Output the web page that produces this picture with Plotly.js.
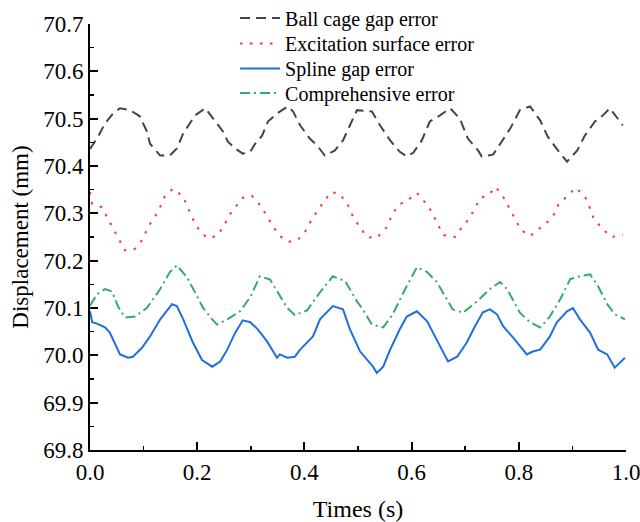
<!DOCTYPE html>
<html>
<head>
<meta charset="utf-8">
<script src="https://cdn.plot.ly/plotly-3.0.1.min.js"></script>
<style>html,body{margin:0;padding:0;background:#fff;}#chart{width:640px;height:522px;}</style>
</head>
<body>
<div id="chart"></div>
<script>
// Series names
const seriesNames = ["Ball cage gap error", "Excitation surface error", "Spline gap error", "Comprehensive error"];

// Ball cage gap error
const ballT = [0.000,0.015,0.028,0.043,0.056,0.075,0.093,0.106,0.112,0.131,0.149,0.162,0.174,0.187,0.196,0.215,0.233,0.248,0.257,0.271,0.285,0.299,0.308,0.321,0.332,0.349,0.369,0.379,0.392,0.410,0.424,0.438,0.457,0.472,0.485,0.498,0.526,0.541,0.560,0.578,0.591,0.603,0.619,0.634,0.653,0.672,0.690,0.705,0.724,0.731,0.752,0.769,0.784,0.802,0.821,0.840,0.854,0.873,0.890,0.909,0.923,0.942,0.957,0.970,0.985,0.994];
const ballY = [70.436,70.462,70.49,70.511,70.522,70.518,70.505,70.473,70.447,70.422,70.422,70.437,70.469,70.49,70.507,70.522,70.496,70.473,70.452,70.437,70.426,70.43,70.447,70.464,70.494,70.511,70.526,70.515,70.486,70.458,70.443,70.422,70.433,70.454,70.486,70.518,70.515,70.486,70.454,70.43,70.42,70.428,70.454,70.494,70.507,70.522,70.5,70.458,70.433,70.42,70.424,70.452,70.479,70.518,70.526,70.496,70.462,70.433,70.409,70.433,70.464,70.494,70.507,70.522,70.5,70.486];

// Excitation surface error
const excT = [0.000,0.004,0.022,0.034,0.043,0.054,0.065,0.084,0.099,0.108,0.121,0.131,0.140,0.155,0.174,0.183,0.192,0.201,0.218,0.237,0.250,0.259,0.272,0.285,0.302,0.317,0.330,0.341,0.354,0.371,0.388,0.405,0.414,0.425,0.437,0.450,0.466,0.481,0.491,0.502,0.517,0.535,0.554,0.563,0.575,0.591,0.610,0.623,0.638,0.647,0.660,0.681,0.694,0.707,0.718,0.729,0.744,0.757,0.772,0.784,0.793,0.804,0.821,0.838,0.854,0.868,0.875,0.892,0.905,0.922,0.931,0.940,0.955,0.972,0.994];
const excY = [70.345,70.32,70.313,70.288,70.267,70.244,70.222,70.225,70.246,70.271,70.292,70.314,70.337,70.352,70.335,70.311,70.288,70.269,70.248,70.252,70.273,70.295,70.314,70.333,70.337,70.318,70.295,70.273,70.252,70.24,70.244,70.267,70.288,70.307,70.326,70.345,70.341,70.318,70.292,70.273,70.25,70.248,70.271,70.295,70.318,70.326,70.343,70.326,70.303,70.28,70.254,70.25,70.271,70.288,70.309,70.333,70.339,70.356,70.333,70.307,70.286,70.265,70.252,70.267,70.282,70.301,70.322,70.337,70.354,70.339,70.316,70.288,70.269,70.25,70.254];

// Spline gap error
const splT = [0.000,0.004,0.013,0.028,0.037,0.043,0.056,0.071,0.080,0.097,0.112,0.131,0.153,0.162,0.174,0.192,0.209,0.228,0.243,0.256,0.271,0.285,0.299,0.313,0.330,0.349,0.354,0.368,0.382,0.392,0.416,0.429,0.453,0.472,0.485,0.504,0.517,0.528,0.535,0.547,0.560,0.578,0.591,0.610,0.629,0.647,0.668,0.685,0.703,0.718,0.733,0.746,0.759,0.771,0.789,0.815,0.826,0.840,0.858,0.871,0.890,0.901,0.914,0.933,0.948,0.965,0.979,0.998];
const splY = [70.093,70.07,70.067,70.059,70.048,70.033,70.002,69.995,69.997,70.016,70.04,70.076,70.108,70.104,70.076,70.027,69.99,69.976,69.987,70.012,70.048,70.074,70.07,70.055,70.03,69.995,70.002,69.995,69.997,70.012,70.04,70.076,70.104,70.097,70.055,70.008,69.99,69.976,69.963,69.976,70.012,70.055,70.082,70.093,70.072,70.034,69.987,69.997,70.027,70.061,70.091,70.097,70.087,70.061,70.038,70.002,70.008,70.012,70.04,70.07,70.093,70.1,70.076,70.048,70.012,70.002,69.974,69.995];

// Comprehensive error
const compT = [0.000,0.013,0.028,0.041,0.052,0.065,0.084,0.106,0.131,0.149,0.162,0.181,0.196,0.211,0.228,0.237,0.256,0.280,0.299,0.317,0.336,0.354,0.368,0.382,0.405,0.429,0.453,0.476,0.498,0.509,0.526,0.547,0.565,0.588,0.610,0.629,0.647,0.666,0.677,0.696,0.722,0.746,0.765,0.778,0.789,0.802,0.821,0.840,0.858,0.877,0.896,0.914,0.933,0.948,0.965,0.979,0.998];
const compY = [70.105,70.129,70.14,70.135,70.104,70.08,70.082,70.1,70.14,70.176,70.19,70.165,70.133,70.1,70.076,70.065,70.076,70.093,70.123,70.167,70.16,70.125,70.1,70.085,70.095,70.133,70.167,70.157,70.114,70.097,70.065,70.059,70.087,70.14,70.186,70.176,70.155,70.118,70.097,70.09,70.114,70.14,70.155,70.14,70.118,70.09,70.07,70.059,70.082,70.118,70.161,70.167,70.171,70.146,70.108,70.087,70.076];

// Axis ticks
const xTicks = [0.0, 0.2, 0.4, 0.6, 0.8, 1.0];
const xTickText = ["0.0", "0.2", "0.4", "0.6", "0.8", "1.0"];
const yTicks = [69.8, 69.9, 70.0, 70.1, 70.2, 70.3, 70.4, 70.5, 70.6, 70.7];
const yTickText = ["69.8", "69.9", "70.0", "70.1", "70.2", "70.3", "70.4", "70.5", "70.6", "70.7"];

const serif = "'Liberation Serif', 'Times New Roman', serif";

const traces = [
  {x: ballT, y: ballY, name: seriesNames[0], type: "scatter", mode: "lines", legend: "legend",
   line: {color: "#444444", width: 2, dash: "10px,6px"}},
  {x: excT, y: excY, name: seriesNames[1], type: "scatter", mode: "lines", legend: "legend2",
   line: {color: "#f23a3a", width: 2, dash: "2.5px,7.5px"}},
  {x: splT, y: splY, name: seriesNames[2], type: "scatter", mode: "lines", legend: "legend3",
   line: {color: "#1f6fe0", width: 2}},
  {x: compT, y: compY, name: seriesNames[3], type: "scatter", mode: "lines", legend: "legend4",
   line: {color: "#35ab66", width: 2, dash: "10px,4px,2px,4px"}}
];

function legendAt(yPaper) {
  return {
    x: 0.2706, y: yPaper, xanchor: "left", yanchor: "middle",
    bgcolor: "rgba(0,0,0,0)", borderwidth: 0,
    itemwidth: 40,
    font: {family: serif, size: 20, color: "#000000"}
  };
}

const layout = {
  width: 640, height: 522,
  margin: {l: 90, r: 14, t: 24, b: 72, autoexpand: false},
  paper_bgcolor: "#ffffff",
  plot_bgcolor: "#ffffff",
  font: {family: serif, color: "#000000", size: 23},
  showlegend: true,
  legend: legendAt(1.0141),
  legend2: legendAt(0.9542),
  legend3: legendAt(0.8955),
  legend4: legendAt(0.838),
  xaxis: {
    range: [0, 1.0],
    tickmode: "array", tickvals: xTicks, ticktext: xTickText,
    ticks: "inside", ticklen: 8, tickwidth: 2, tickcolor: "#000",
    ticklabeloverflow: "allow",
    minor: {dtick: 0.1, ticks: "inside", ticklen: 4, tickwidth: 1.5, tickcolor: "#000"},
    showline: true, linecolor: "#000", linewidth: 2,
    showgrid: false, zeroline: false,
    tickfont: {family: serif, size: 23, color: "#000"},
    title: {text: "Times (s)", font: {family: serif, size: 24, color: "#000"}, standoff: 22}
  },
  yaxis: {
    range: [69.8, 70.7],
    tickmode: "array", tickvals: yTicks, ticktext: yTickText,
    ticks: "inside", ticklen: 8, tickwidth: 2, tickcolor: "#000",
    ticklabeloverflow: "allow",
    minor: {dtick: 0.05, tick0: 69.8, ticks: "inside", ticklen: 4, tickwidth: 1.5, tickcolor: "#000"},
    showline: true, linecolor: "#000", linewidth: 2,
    showgrid: false, zeroline: false,
    tickfont: {family: serif, size: 23, color: "#000"},
    title: {text: "Displacement (mm)", font: {family: serif, size: 23, color: "#000"}, standoff: 8}
  }
};

Plotly.newPlot("chart", traces, layout, {displayModeBar: false, staticPlot: true});
</script>
</body>
</html>
